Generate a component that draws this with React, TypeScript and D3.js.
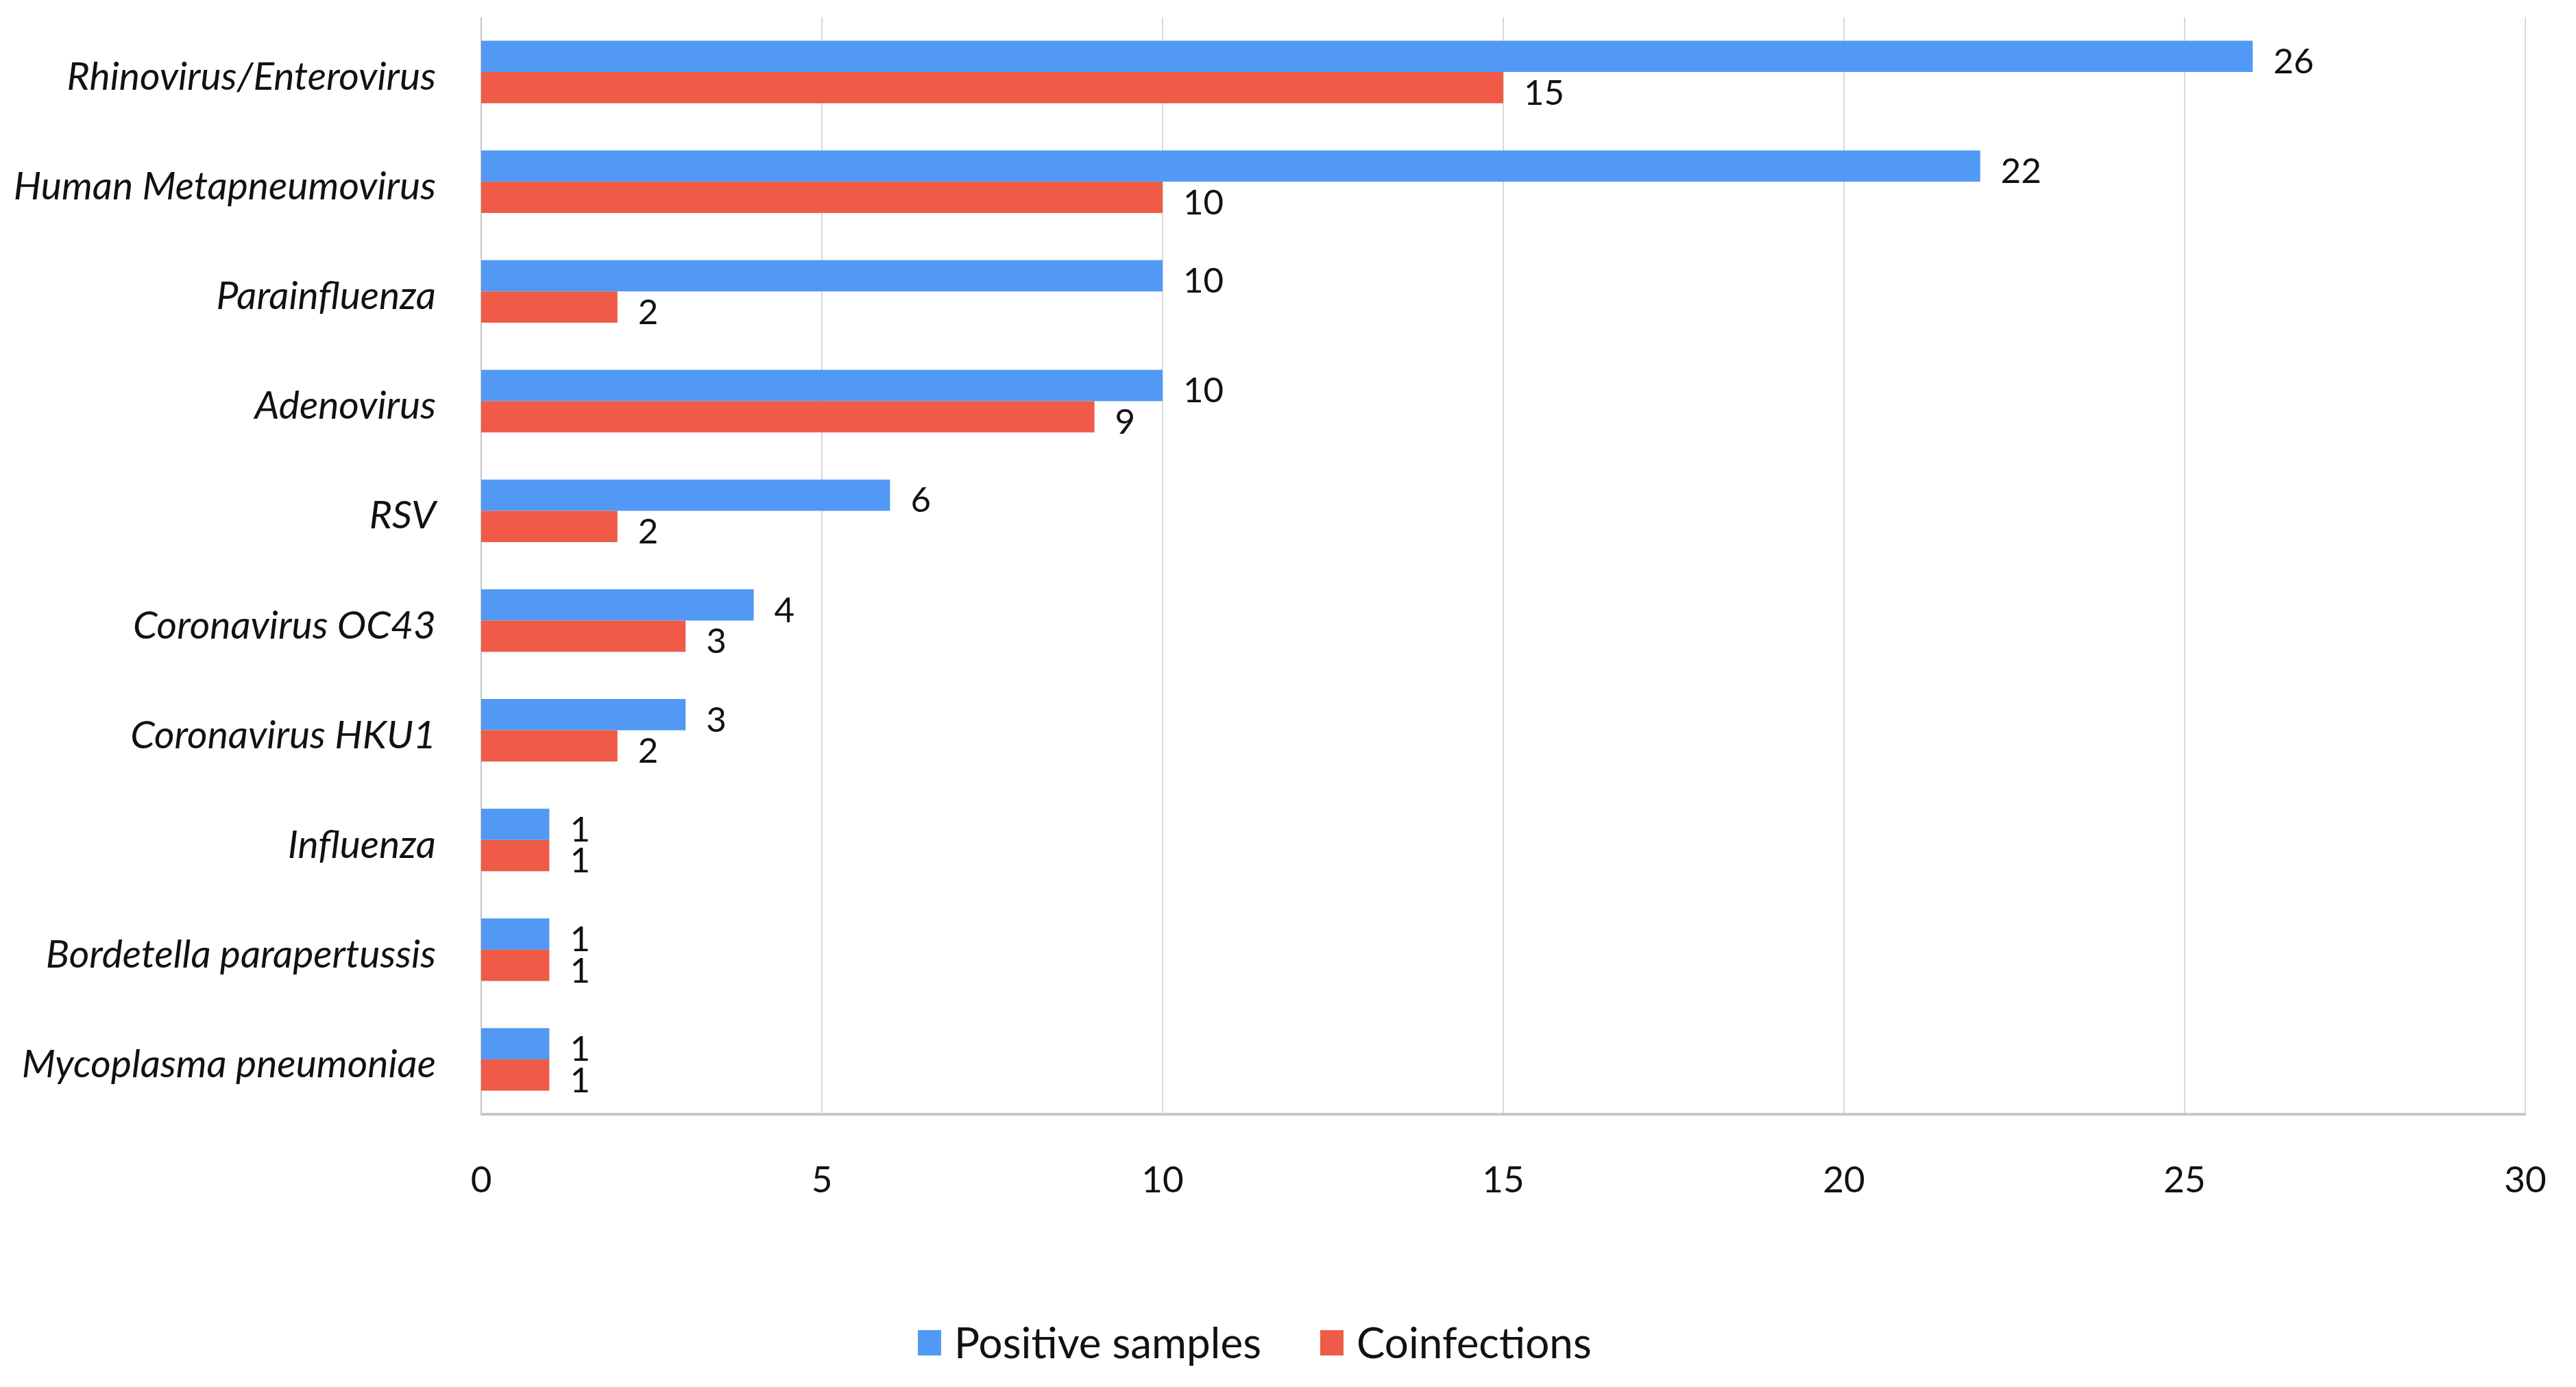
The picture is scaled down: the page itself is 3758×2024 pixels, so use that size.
import React from 'react';
import * as d3 from 'd3';

const categories = [
  'Rhinovirus/Enterovirus',
  'Human Metapneumovirus',
  'Parainfluenza',
  'Adenovirus',
  'RSV',
  'Coronavirus OC43',
  'Coronavirus HKU1',
  'Influenza',
  'Bordetella parapertussis',
  'Mycoplasma pneumoniae',
];
const positiveSamples = [26, 22, 10, 10, 6, 4, 3, 1, 1, 1];
const coinfections = [15, 10, 2, 9, 2, 3, 2, 1, 1, 1];
const seriesNames = ['Positive samples', 'Coinfections'];
const xTicks = [0, 5, 10, 15, 20, 25, 30];

const W = 3758;
const H = 2024;
const colors = ['#5199f4', '#ef5b46'];
const font = 'Lato, "Open Sans", sans-serif';

const App = () => {
  const x = d3.scaleLinear().domain([0, 30]).range([702, 3684]);
  const y = d3
    .scaleBand<string>()
    .domain(categories)
    .range([25, 1626])
    .paddingInner(0.43)
    .paddingOuter(0.215);
  const sub = d3.scaleBand<string>().domain(seriesNames).range([0, y.bandwidth()]);
  const series = [positiveSamples, coinfections];

  const plotTop = y.range()[0];
  const plotBottom = y.range()[1];

  return (
    <svg
      width={W}
      height={H}
      style={{ position: 'absolute', left: 0, top: 0, background: '#fff' }}
      fontFamily={font}
    >
      {/* grid */}
      {xTicks.slice(1).map((t) => (
        <line key={t} x1={x(t)} x2={x(t)} y1={plotTop} y2={plotBottom} stroke="#d9d9d9" strokeWidth={2} />
      ))}
      <line x1={x(0)} x2={x(0)} y1={plotTop} y2={plotBottom} stroke="#c4c4c4" strokeWidth={2} />

      {/* bars */}
      {series.map((vals, si) =>
        categories.map((c, i) => (
          <rect
            key={`${si}-${c}`}
            x={x(0)}
            y={(y(c) ?? 0) + (sub(seriesNames[si]) ?? 0)}
            width={x(vals[i]) - x(0)}
            height={sub.bandwidth()}
            fill={colors[si]}
          />
        )),
      )}

      {/* value labels */}
      {series.map((vals, si) =>
        categories.map((c, i) => (
          <text
            key={`l${si}-${c}`}
            x={x(vals[i]) + 30}
            y={(y(c) ?? 0) + (sub(seriesNames[si]) ?? 0) + sub.bandwidth() / 2 + 7}
            dy="0.35em"
            fontSize={51}
            fill="#111"
          >
            {vals[i]}
          </text>
        )),
      )}

      {/* bottom axis */}
      <line x1={x(0) - 1} x2={x(30) + 1} y1={plotBottom} y2={plotBottom} stroke="#c8c8c8" strokeWidth={4} />
      {xTicks.map((t) => (
        <text key={`t${t}`} x={x(t)} y={1740} textAnchor="middle" fontSize={53} fill="#111">
          {t}
        </text>
      ))}

      {/* category labels */}
      {categories.map((c) => (
        <text
          key={`c-${c}`}
          x={636}
          y={(y(c) ?? 0) + y.bandwidth() / 2 + 6}
          dy="0.35em"
          textAnchor="end"
          fontSize={57}
          fontStyle="italic"
          fill="#111"
        >
          {c}
        </text>
      ))}

      {/* legend */}
      {seriesNames.map((s, i) => {
        const lx = [1339, 1926][i];
        return (
          <g key={s}>
            <rect x={lx} y={1941} width={34} height={37} fill={colors[i]} />
            <text x={lx + 53} y={1960} dy="0.35em" fontSize={62} fill="#111">
              {s}
            </text>
          </g>
        );
      })}
    </svg>
  );
};

export default App;
